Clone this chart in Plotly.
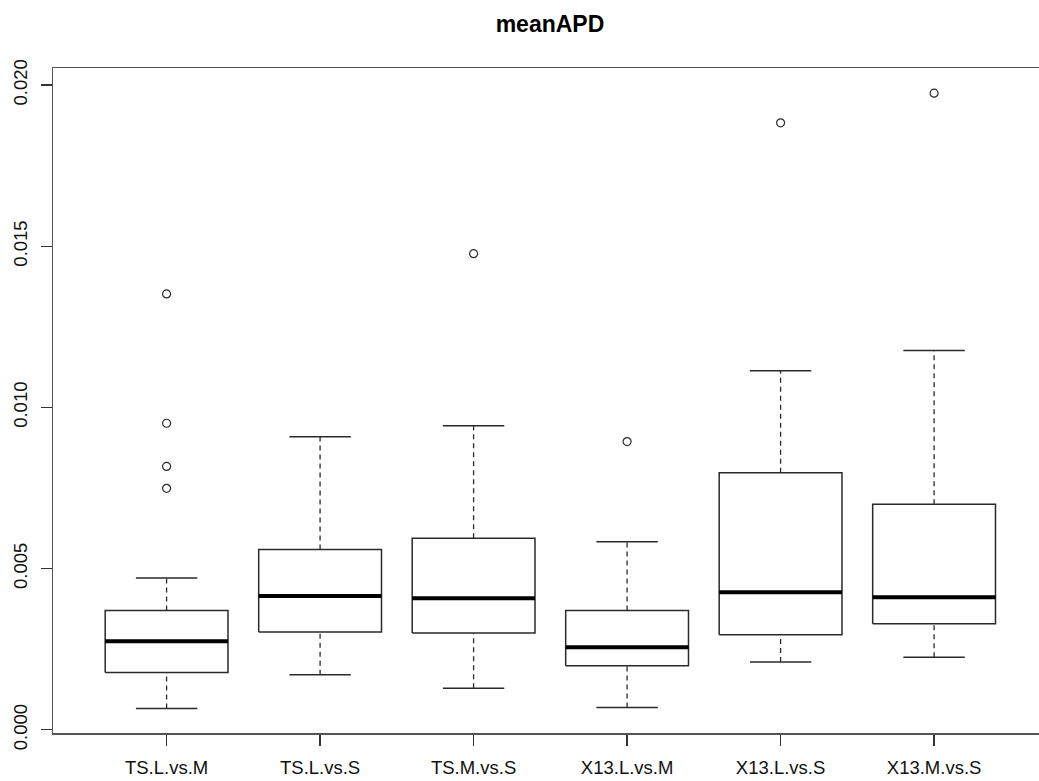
import plotly.graph_objects as go

categories = ["TS.L.vs.M", "TS.L.vs.S", "TS.M.vs.S", "X13.L.vs.M", "X13.L.vs.S", "X13.M.vs.S"]
whisker_low = [0.00066, 0.00171, 0.00129, 0.00069, 0.00210, 0.00225]
q1 = [0.00178, 0.00303, 0.00300, 0.00199, 0.00295, 0.00329]
median = [0.00275, 0.00415, 0.00408, 0.00256, 0.00427, 0.00411]
q3 = [0.00370, 0.00559, 0.00594, 0.00370, 0.00797, 0.00700]
whisker_high = [0.00471, 0.00909, 0.00943, 0.00583, 0.01114, 0.01177]
outliers = {
    "TS.L.vs.M": [0.01352, 0.00951, 0.00817, 0.00749],
    "TS.L.vs.S": [],
    "TS.M.vs.S": [0.01477],
    "X13.L.vs.M": [0.00894],
    "X13.L.vs.S": [0.01883],
    "X13.M.vs.S": [0.01975],
}
y_ticks = [0.000, 0.005, 0.010, 0.015, 0.020]

BOX_HALF = 0.4
STAPLE_HALF = 0.2
LINE = "#2a2a2a"

box_x, box_y = [], []
med_x, med_y = [], []
wh_x, wh_y = [], []
st_x, st_y = [], []
out_x, out_y = [], []
for i, cat in enumerate(categories):
    c = i + 1
    box_x += [c - BOX_HALF, c + BOX_HALF, c + BOX_HALF, c - BOX_HALF, c - BOX_HALF, None]
    box_y += [q1[i], q1[i], q3[i], q3[i], q1[i], None]
    med_x += [c - BOX_HALF, c + BOX_HALF, None]
    med_y += [median[i], median[i], None]
    wh_x += [c, c, None, c, c, None]
    wh_y += [whisker_low[i], q1[i], None, q3[i], whisker_high[i], None]
    st_x += [c - STAPLE_HALF, c + STAPLE_HALF, None, c - STAPLE_HALF, c + STAPLE_HALF, None]
    st_y += [whisker_low[i], whisker_low[i], None, whisker_high[i], whisker_high[i], None]
    for v in outliers[cat]:
        out_x.append(c)
        out_y.append(v)

fig = go.Figure()
fig.add_trace(go.Scatter(x=wh_x, y=wh_y, mode="lines",
                         line=dict(color=LINE, width=1.3, dash="5px,4px"), hoverinfo="skip"))
fig.add_trace(go.Scatter(x=st_x, y=st_y, mode="lines",
                         line=dict(color=LINE, width=1.5), hoverinfo="skip"))
fig.add_trace(go.Scatter(x=box_x, y=box_y, mode="lines",
                         line=dict(color=LINE, width=1.5), hoverinfo="skip"))
fig.add_trace(go.Scatter(x=med_x, y=med_y, mode="lines",
                         line=dict(color="#000000", width=4), hoverinfo="skip"))
fig.add_trace(go.Scatter(x=out_x, y=out_y, mode="markers",
                         marker=dict(symbol="circle-open", size=8, color=LINE,
                                     line=dict(width=1.2, color=LINE)), hoverinfo="skip"))

fig.update_layout(
    width=1039, height=781,
    margin=dict(l=53, r=0, t=68, b=48),
    paper_bgcolor="white", plot_bgcolor="white",
    showlegend=False,
    hovermode=False,
    font=dict(family="Liberation Sans, Arial, sans-serif", color="#111111"),
    title=dict(text="<b>meanAPD</b>", x=550 / 1039, xanchor="center",
               y=1 - 24 / 781, yanchor="middle",
               font=dict(size=23, family="Liberation Sans, Arial, sans-serif", color="#000000")),
)
fig.update_xaxes(
    range=[0.26, 0.26 + 986 / 153.5],
    tickmode="array", tickvals=list(range(1, len(categories) + 1)), ticktext=categories,
    showline=True, linecolor="#555555", linewidth=1.5, mirror=True,
    ticks="outside", ticklen=11, tickwidth=1.3, tickcolor="#333333",
    showgrid=False, zeroline=False,
    tickfont=dict(size=18.5, color="#111111"), ticklabelstandoff=6,
)
fig.update_yaxes(
    range=[-0.0001, 0.02053],
    tickmode="array", tickvals=y_ticks, ticktext=[f"{v:.3f}" for v in y_ticks],
    tickangle=-90,
    showline=True, linecolor="#555555", linewidth=1.5, mirror=False,
    ticks="outside", ticklen=11, tickwidth=1.3, tickcolor="#333333",
    showgrid=False, zeroline=False,
    tickfont=dict(size=18.5, color="#111111"), ticklabelstandoff=6,
)

fig.write_html("out.html",
               config={"displayModeBar": False, "staticPlot": True},
               post_script="document.body.style.margin='0px';document.body.style.overflow='hidden';")
